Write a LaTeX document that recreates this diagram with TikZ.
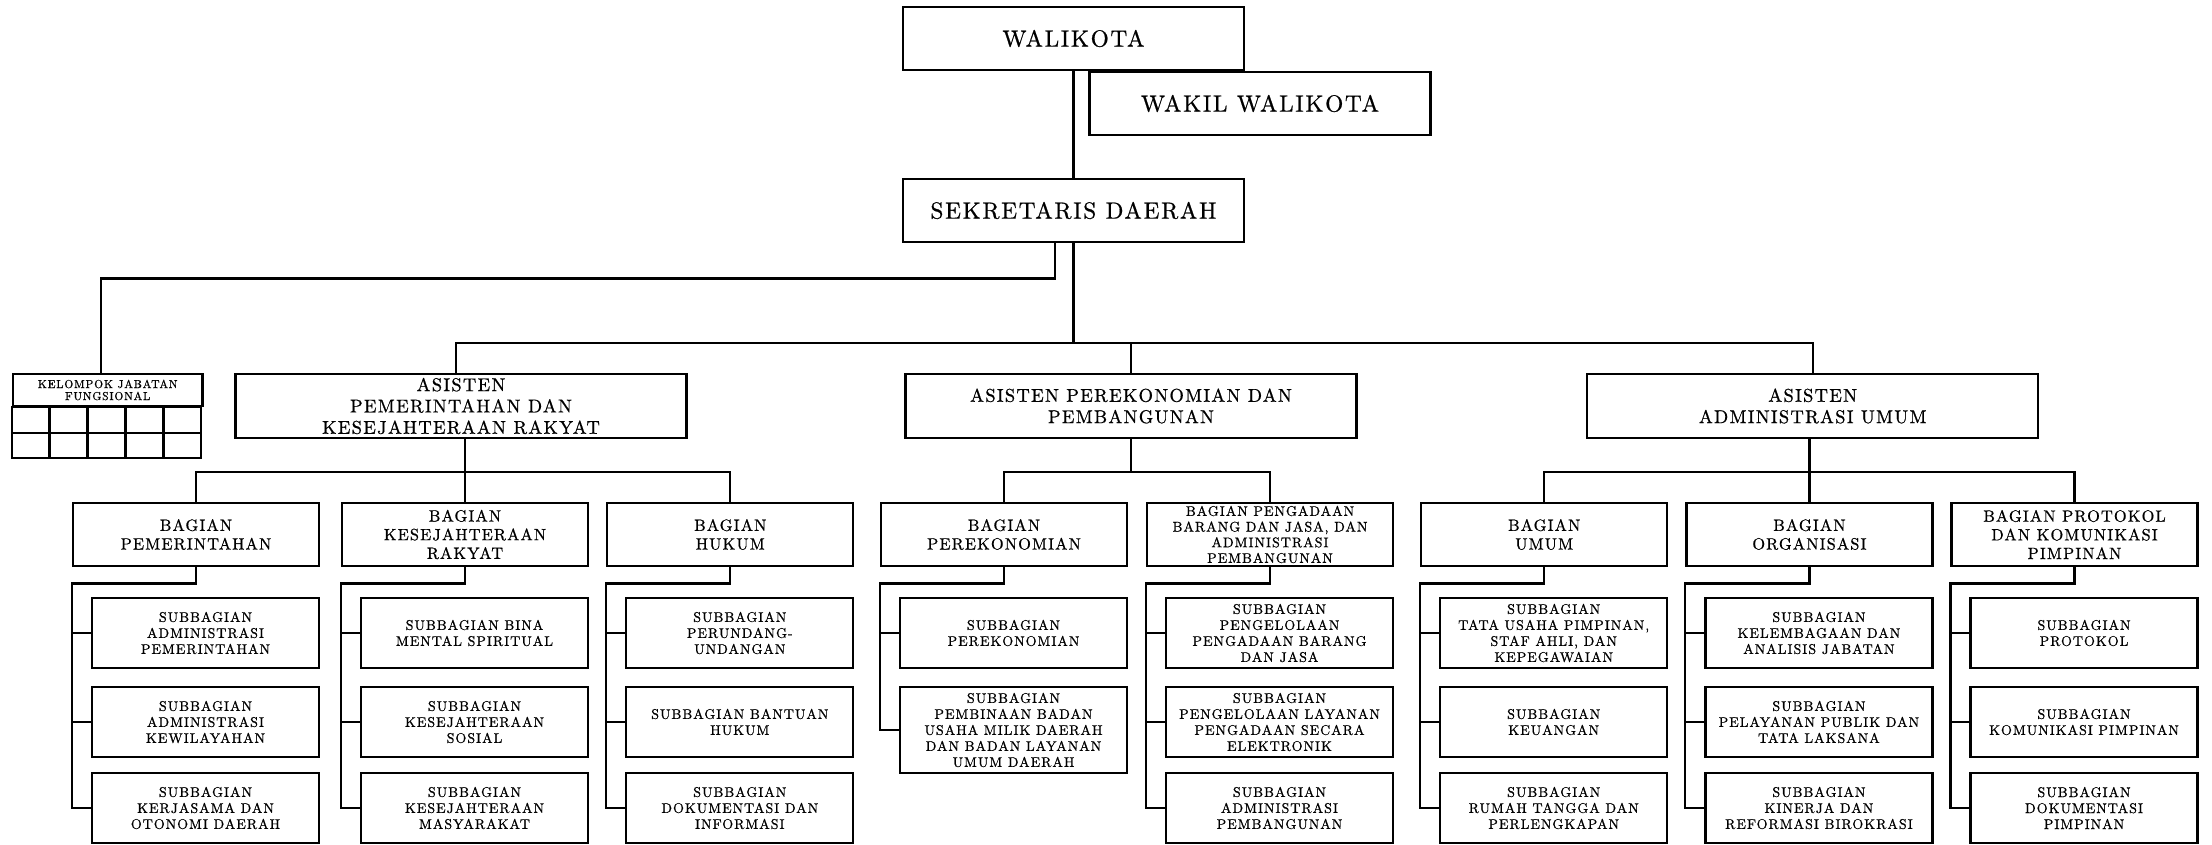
\documentclass[tikz,border=0pt]{standalone}
\usepackage{fontspec}
\setmainfont{lmroman10-regular.otf}[LetterSpace=7,FakeBold=0.7]

\begin{document}
\begin{tikzpicture}[x=0.3pt,y=-0.3pt,line width=0.7pt,
  box/.style={draw,align=center,inner sep=0pt},
  top/.style={box,minimum width=102.3pt,minimum height=18.9pt,font={\fontsize{7}{8}\selectfont}},
  asisten/.style={box,minimum width=135.3pt,minimum height=19.2pt,font={\fontsize{5.55}{6.4}\selectfont}},
  bagian/.style={box,minimum width=73.8pt,minimum height=19.05pt,font={\fontsize{4.9}{5.6}\selectfont}},
  sub/.style={box,minimum width=68.1pt,minimum height=21pt,font={\fontsize{4.2}{4.8}\selectfont}},
  small/.style={font={\fontsize{4.2}{4.7}\selectfont}}]
\useasboundingbox (0,0) rectangle (2212,844);

% pimpinan
\node[top] (wali) at (1073.5,38.5) {WALIKOTA};
\node[top] (wakil) at (1260,103.5) {WAKIL WALIKOTA};
\node[top] (sekda) at (1073.5,210.5) {SEKRETARIS DAERAH};

% kelompok jabatan fungsional
\node[box,minimum width=56.9pt,minimum height=9.6pt,font={\fontsize{3.46}{3.6}\selectfont}] (kjf) at (107.7,390) {KELOMPOK JABATAN\\FUNGSIONAL};
\foreach \i in {0,...,4}
  \foreach \j in {0,1}
    \draw ([shift={(\i*37.92,\j*25.5)}]kjf.south west) rectangle ++(37.92,25.5);

% asisten
\node[asisten] (asPem) at (461,406) {ASISTEN\\PEMERINTAHAN DAN\\KESEJAHTERAAN RAKYAT};
\node[asisten] (asPer) at (1131,406) {ASISTEN PEREKONOMIAN DAN\\PEMBANGUNAN};
\node[asisten] (asAdm) at (1812.7,406) {ASISTEN\\ADMINISTRASI UMUM};

% bagian
\node[bagian] (bagpem) at (196,534.5) {BAGIAN\\PEMERINTAHAN};
\node[bagian] (bagkes) at (465,534.5) {BAGIAN\\KESEJAHTERAAN\\RAKYAT};
\node[bagian] (baghuk) at (730.3,534.5) {BAGIAN\\HUKUM};
\node[bagian] (bagper) at (1004,534.5) {BAGIAN\\PEREKONOMIAN};
\node[bagian,small] (bagpeng) at (1270,534.5) {BAGIAN PENGADAAN\\BARANG DAN JASA, DAN\\ADMINISTRASI\\PEMBANGUNAN};
\node[bagian] (bagumum) at (1544.2,534.5) {BAGIAN\\UMUM};
\node[bagian] (bagorg) at (1809.4,534.5) {BAGIAN\\ORGANISASI};
\node[bagian] (bagprot) at (2074.5,534.5) {BAGIAN PROTOKOL\\DAN KOMUNIKASI\\PIMPINAN};

% subbagian
\node[sub] (subpem1) at (205.5,633) {SUBBAGIAN\\ADMINISTRASI\\PEMERINTAHAN};
\node[sub] (subpem2) at (205.5,722) {SUBBAGIAN\\ADMINISTRASI\\KEWILAYAHAN};
\node[sub] (subpem3) at (205.5,808) {SUBBAGIAN\\KERJASAMA DAN\\OTONOMI DAERAH};

\node[sub] (subkes1) at (474.5,633) {SUBBAGIAN BINA\\MENTAL SPIRITUAL};
\node[sub] (subkes2) at (474.5,722) {SUBBAGIAN\\KESEJAHTERAAN\\SOSIAL};
\node[sub] (subkes3) at (474.5,808) {SUBBAGIAN\\KESEJAHTERAAN\\MASYARAKAT};

\node[sub] (subhuk1) at (739.8,633) {SUBBAGIAN\\PERUNDANG-\\UNDANGAN};
\node[sub] (subhuk2) at (739.8,722) {SUBBAGIAN BANTUAN\\HUKUM};
\node[sub] (subhuk3) at (739.8,808) {SUBBAGIAN\\DOKUMENTASI DAN\\INFORMASI};

\node[sub] (subper1) at (1013.5,633) {SUBBAGIAN\\PEREKONOMIAN};
\node[sub,minimum height=25.8pt] (subper2) at (1013.5,730) {SUBBAGIAN\\PEMBINAAN BADAN\\USAHA MILIK DAERAH\\DAN BADAN LAYANAN\\UMUM DAERAH};

\node[sub] (subpeng1) at (1279.5,633) {SUBBAGIAN\\PENGELOLAAN\\PENGADAAN BARANG\\DAN JASA};
\node[sub] (subpeng2) at (1279.5,722) {SUBBAGIAN\\PENGELOLAAN LAYANAN\\PENGADAAN SECARA\\ELEKTRONIK};
\node[sub] (subpeng3) at (1279.5,808) {SUBBAGIAN\\ADMINISTRASI\\PEMBANGUNAN};

\node[sub] (subumum1) at (1553.7,633) {SUBBAGIAN\\TATA USAHA PIMPINAN,\\STAF AHLI, DAN\\KEPEGAWAIAN};
\node[sub] (subumum2) at (1553.7,722) {SUBBAGIAN\\KEUANGAN};
\node[sub] (subumum3) at (1553.7,808) {SUBBAGIAN\\RUMAH TANGGA DAN\\PERLENGKAPAN};

\node[sub] (suborg1) at (1818.9,633) {SUBBAGIAN\\KELEMBAGAAN DAN\\ANALISIS JABATAN};
\node[sub] (suborg2) at (1818.9,722) {SUBBAGIAN\\PELAYANAN PUBLIK DAN\\TATA LAKSANA};
\node[sub] (suborg3) at (1818.9,808) {SUBBAGIAN\\KINERJA DAN\\REFORMASI BIROKRASI};

\node[sub] (subprot1) at (2084,633) {SUBBAGIAN\\PROTOKOL};
\node[sub] (subprot2) at (2084,722) {SUBBAGIAN\\KOMUNIKASI PIMPINAN};
\node[sub] (subprot3) at (2084,808) {SUBBAGIAN\\DOKUMENTASI\\PIMPINAN};

% garis
\coordinate (kjfbus) at (1055,278.5);
\coordinate (asbus) at (1073.5,342.7);
\coordinate (bgbus) at (0,472);

\draw (wali) -- (sekda);
\draw (sekda.south -| kjfbus) -- (kjfbus) -| ([xshift=-2pt]kjf.north);
\draw (sekda) -- (asbus);
\draw ([xshift=-1.6pt]asPem.north) |- (asbus) -| (asAdm.north);
\draw (asbus -| asPer.north) -- (asPer.north);

\draw (bagkes.north |- asPem.south) -- (bagkes.north);
\draw (bagpem.north) |- (baghuk.north |- bgbus) -- (baghuk.north);
\draw (asPer.south) -- (asPer.south |- bgbus);
\draw (bagper.north) |- (bagpeng.north |- bgbus) -- (bagpeng.north);
\draw (bagorg.north |- asAdm.south) -- (bagorg.north);
\draw (bagumum.north) |- (bagprot.north |- bgbus) -- (bagprot.north);

\foreach \grp/\last in {pem/3,kes/3,huk/3,per/2,peng/3,umum/3,org/3,prot/3} {
  \draw (bag\grp.south) -- ++(0,16) -| (bag\grp.west |- sub\grp\last.west) -- (sub\grp\last.west);
  \foreach \k in {1,...,\last}
    \draw (bag\grp.west |- sub\grp\k.west) -- (sub\grp\k.west);
}
\end{tikzpicture}
\end{document}
